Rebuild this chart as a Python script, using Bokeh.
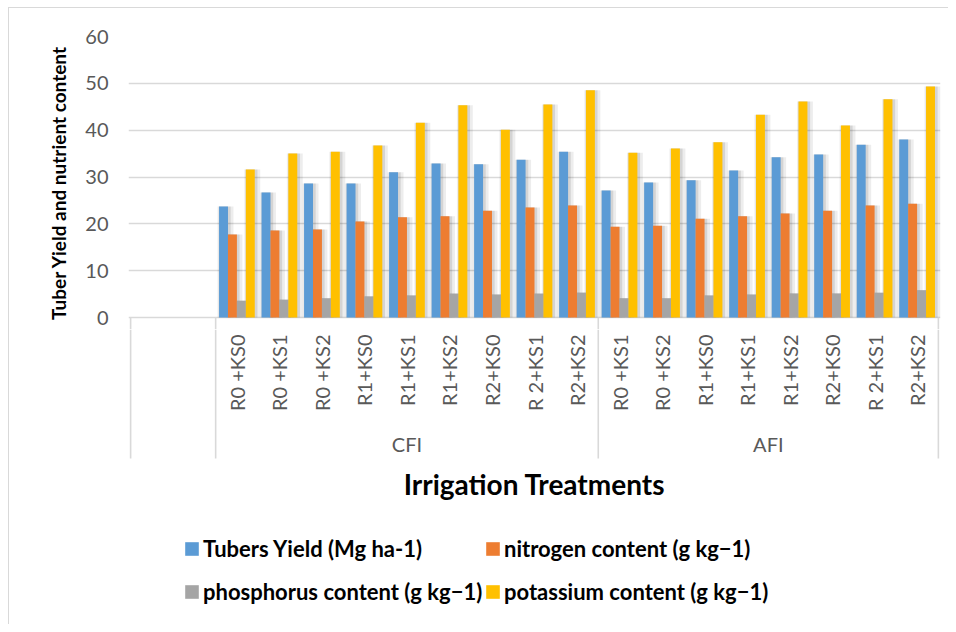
import numpy as np
from bokeh.plotting import figure
from bokeh.models import Range1d, FixedTicker, ColumnDataSource, Legend, LegendItem, Spacer
from bokeh.layouts import column, row
from bokeh.embed import file_html
from bokeh.resources import INLINE
from bokeh.core.properties import value
from bokeh.transform import dodge

# ---------------- data ----------------
groups = ["CFI", "AFI"]
cfi_treatments = ["R0 +KS0", "R0 +KS1", "R0 +KS2", "R1+KS0", "R1+KS1", "R1+KS2",
                  "R2+KS0", "R 2+KS1", "R2+KS2"]
afi_treatments = ["R0 +KS1", "R0 +KS2", "R1+KS0", "R1+KS1", "R1+KS2", "R2+KS0",
                  "R 2+KS1", "R2+KS2"]
series_names = ["Tubers Yield (Mg ha-1)", "nitrogen content (g kg\u22121)",
                "phosphorus content (g kg\u22121)", "potassium content (g kg\u22121)"]
tubers_yield = [23.7, 26.7, 28.6, 28.6, 31.0, 32.9, 32.7, 33.7, 35.4,
                27.1, 28.8, 29.3, 31.4, 34.2, 34.8, 36.9, 38.0]
nitrogen = [17.7, 18.6, 18.8, 20.5, 21.4, 21.6, 22.8, 23.5, 23.9,
            19.4, 19.6, 21.1, 21.6, 22.2, 22.8, 23.9, 24.3]
phosphorus = [3.6, 3.8, 4.1, 4.5, 4.7, 5.1, 4.9, 5.1, 5.3,
              4.1, 4.1, 4.7, 4.9, 5.1, 5.1, 5.3, 5.8]
potassium = [31.6, 35.0, 35.4, 36.7, 41.6, 45.3, 40.1, 45.5, 48.5,
             35.2, 36.1, 37.4, 43.3, 46.1, 41.0, 46.6, 49.3]
y_ticks = [0, 10, 20, 30, 40, 50, 60]
y_title = "Tuber Yield and nutrient content"
x_title = "Irrigation Treatments"

# ---------------- styling ----------------
colors = ["#5B9BD5", "#ED7D31", "#A5A5A5", "#FFC000"]
FONT = "Lato"
GRID = "#d9d9d9"
LABEL = "#595959"
n_blank = 2  # empty leading categories in the original axis

treatments = cfi_treatments + afi_treatments
n_cat = n_blank + len(treatments)
centers = [n_blank + i + 0.5 for i in range(len(treatments))]

src = ColumnDataSource(dict(x=centers, s0=tubers_yield, s1=nitrogen, s2=phosphorus, s3=potassium))

x_range = Range1d(-0.05, n_cat + 0.05)
px_per_unit = 812 / (n_cat + 0.1)
bar_w = 0.21
offsets = [(-1.5 + k) * bar_w for k in range(4)]
bounds = [0, n_blank, n_blank + len(cfi_treatments), n_cat]

# ---------------- plot area ----------------
p = figure(width=939, height=321, x_range=x_range, y_range=Range1d(-2.562, 60),
           output_backend="svg", toolbar_location=None,
           x_axis_location=None, y_axis_location="left",
           min_border_left=119, min_border_right=8, min_border_top=28, min_border_bottom=0)
p.outline_line_color = None
p.xgrid.visible = False
p.ygrid.ticker = FixedTicker(ticks=y_ticks)
p.ygrid.grid_line_color = GRID
p.ygrid.grid_line_width = 1.4

yax = p.yaxis[0]
yax.ticker = FixedTicker(ticks=y_ticks)
yax.axis_line_color = None
yax.major_tick_line_color = None
yax.minor_tick_line_color = None
yax.major_tick_out = 0
yax.major_tick_in = 0
yax.major_label_standoff = 20
yax.major_label_text_font = FONT
yax.major_label_text_font_size = "20px"
yax.major_label_text_color = LABEL
yax.axis_label = y_title
yax.axis_label_text_font = FONT
yax.axis_label_text_font_style = "bold"
yax.axis_label_text_font_size = "19px"
yax.axis_label_text_color = "black"
yax.axis_label_standoff = 12

# top part of the category-axis separators
p.segment(x0=bounds, x1=bounds, y0=[0] * 4, y1=[-3] * 4, line_color=GRID, line_width=1.6)

# soft shadows
sh_dx = 2.0 / px_per_unit
for k in range(4):
    p.vbar(x=dodge("x", offsets[k] + sh_dx, range=x_range), top="s%d" % k, bottom=0,
           width=bar_w + 7 / px_per_unit, source=src,
           fill_color="black", fill_alpha=0.07, line_color=None)
    p.vbar(x=dodge("x", offsets[k] + sh_dx * 0.6, range=x_range), top="s%d" % k, bottom=0,
           width=bar_w + 3 / px_per_unit, source=src,
           fill_color="black", fill_alpha=0.10, line_color=None)
for k in range(4):
    p.vbar(x=dodge("x", offsets[k], range=x_range), top="s%d" % k, bottom=0,
           width=bar_w, source=src, fill_color=colors[k], line_color=None)

# ---------------- category axis, title, legend ----------------
q = figure(width=939, height=295, x_range=x_range, y_range=Range1d(624, 329),
           output_backend="svg", toolbar_location=None,
           x_axis_location=None, y_axis_location=None,
           min_border_left=119, min_border_right=8, min_border_top=0, min_border_bottom=0)
q.outline_line_color = None
q.grid.visible = False

q.segment(x0=bounds, x1=bounds, y0=[329] * 4, y1=[458] * 4, line_color=GRID, line_width=1.6)

q.text(x=centers, y=[334] * len(centers), text=treatments, angle=np.pi / 2,
       text_align="right", text_baseline="middle", text_font=value(FONT),
       text_font_size="20px", text_color=LABEL)

group_x = [(bounds[1] + bounds[2]) / 2, (bounds[2] + bounds[3]) / 2]
q.text(x=group_x, y=[443, 443], text=groups, text_align="center", text_baseline="middle",
       text_font=value(FONT), text_font_size="20px", text_color=LABEL)

q.text(x=[(bounds[0] + bounds[3]) / 2], y=[483], text=[x_title], text_align="center",
       text_baseline="middle", text_font=value(FONT), text_font_size="28px",
       text_font_style="bold", text_color="black")

# legend swatches (zero-height renderers placed outside the visible range)
dummies = [q.vbar(x=[-100], top=[900], bottom=[900], width=0.2, fill_color=c, line_color=None)
           for c in colors]


def make_legend(idx, xloc):
    leg = Legend(items=[LegendItem(label=series_names[i], renderers=[dummies[i]]) for i in idx],
                 location=(xloc, 19), orientation="vertical")
    leg.border_line_color = None
    leg.background_fill_alpha = 0
    leg.padding = 0
    leg.margin = 0
    leg.spacing = 16
    leg.glyph_width = 17
    leg.glyph_height = 17
    leg.label_height = 24
    leg.label_standoff = 3
    leg.label_text_font = FONT
    leg.label_text_font_style = "bold"
    leg.label_text_font_size = "22px"
    leg.label_text_color = "black"
    return leg


q.add_layout(make_legend([0, 2], 55), "center")
q.add_layout(make_legend([1, 3], 356), "center")

inner = column(p, q, spacing=0,
               styles={"border-left": "1px solid #d9d9d9", "border-top": "1px solid #d9d9d9"})
layout = column(Spacer(height=7), row(Spacer(width=8), inner, spacing=0), spacing=0)

open("out.html", "w").write(file_html(layout, INLINE))
